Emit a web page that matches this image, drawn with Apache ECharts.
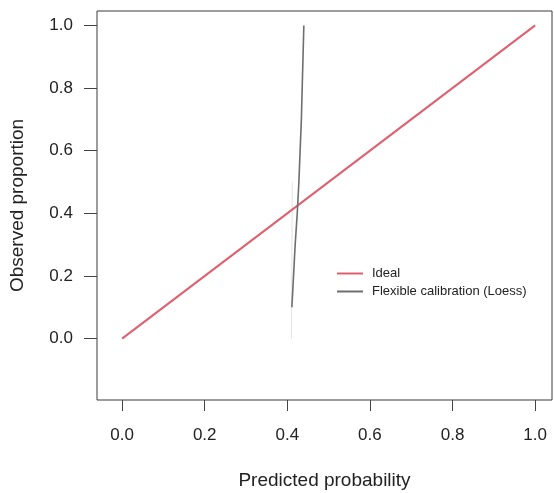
<!DOCTYPE html>
<html>
<head>
<meta charset="utf-8">
<script src="https://cdn.jsdelivr.net/npm/echarts@6/dist/echarts.min.js"></script>
<style>
  html, body { margin: 0; padding: 0; background: #fff; }
  #chart { width: 554px; height: 493px; }
</style>
</head>
<body>
<div id="chart"></div>
<script>
// Calibration plot: ideal diagonal vs. flexible (loess) calibration curve
const tickValues = [0, 0.2, 0.4, 0.6, 0.8, 1.0];

const idealPred = [0, 1];
const idealObs = [0, 1];

const loessPred = [0.411, 0.415, 0.419, 0.424, 0.428, 0.431, 0.434, 0.436, 0.438, 0.440];
const loessObs  = [0.10, 0.20, 0.30, 0.40, 0.50, 0.60, 0.70, 0.80, 0.90, 1.00];

// faint trace beneath the lower part of the loess curve
const tracePred = [0.410, 0.411, 0.412];
const traceObs  = [0.00, 0.25, 0.50];

const pairs = (xs, ys) => xs.map((x, i) => [x, ys[i]]);

const chart = echarts.init(document.getElementById('chart'), null, { renderer: 'canvas' });
const font = "'Liberation Sans', Arial, Helvetica, sans-serif";

chart.setOption({
  animation: false,
  backgroundColor: '#ffffff',
  textStyle: { fontFamily: font },
  grid: {
    left: 97, top: 11, right: 2, bottom: 93,
    containLabel: false, outerBoundsMode: 'none',
    show: true, borderColor: '#3a3a3a', borderWidth: 1, backgroundColor: 'transparent'
  },
  xAxis: {
    type: 'value',
    min: -0.0608, max: 1.0408,
    name: 'Predicted probability',
    nameLocation: 'middle',
    nameGap: 71,
    nameTextStyle: { fontSize: 19, color: '#222', fontFamily: font },
    axisLine: { show: false, onZero: false },
    splitLine: { show: false },
    axisTick: { show: true, length: 11, customValues: tickValues, lineStyle: { color: '#444' } },
    axisLabel: {
      customValues: tickValues, margin: 27, fontSize: 17, color: '#222', fontFamily: font,
      formatter: v => v.toFixed(1)
    }
  },
  yAxis: {
    type: 'value',
    min: -0.196, max: 1.046,
    name: 'Observed proportion',
    nameLocation: 'middle',
    nameGap: 70,
    nameRotate: 90,
    nameTextStyle: { fontSize: 19, color: '#222', fontFamily: font },
    axisLine: { show: false, onZero: false },
    splitLine: { show: false },
    axisTick: { show: true, length: 13, customValues: tickValues, lineStyle: { color: '#444' } },
    axisLabel: {
      customValues: tickValues, margin: 24, fontSize: 17, color: '#222', fontFamily: font,
      formatter: v => v.toFixed(1)
    }
  },
  legend: {
    orient: 'vertical',
    left: 332, top: 262,
    itemWidth: 26, itemHeight: 2, itemGap: 5,
    icon: 'rect',
    textStyle: { fontSize: 13, lineHeight: 13, color: '#222', fontFamily: font, padding: [0, 0, 0, 4] },
    data: ['Ideal', 'Flexible calibration (Loess)']
  },
  series: [
    {
      name: 'trace', type: 'line', data: pairs(tracePred, traceObs),
      showSymbol: false, silent: true, z: 1,
      lineStyle: { color: '#e4e4e4', width: 1 }, itemStyle: { color: '#e4e4e4' }
    },
    {
      name: 'Ideal', type: 'line', data: pairs(idealPred, idealObs),
      showSymbol: false, z: 2,
      lineStyle: { color: '#df5f6e', width: 2 }, itemStyle: { color: '#df5f6e' }
    },
    {
      name: 'Flexible calibration (Loess)', type: 'line', data: pairs(loessPred, loessObs),
      showSymbol: false, z: 3,
      lineStyle: { color: '#6e6e6e', width: 1.6 }, itemStyle: { color: '#6e6e6e' }
    }
  ]
});
</script>
</body>
</html>
